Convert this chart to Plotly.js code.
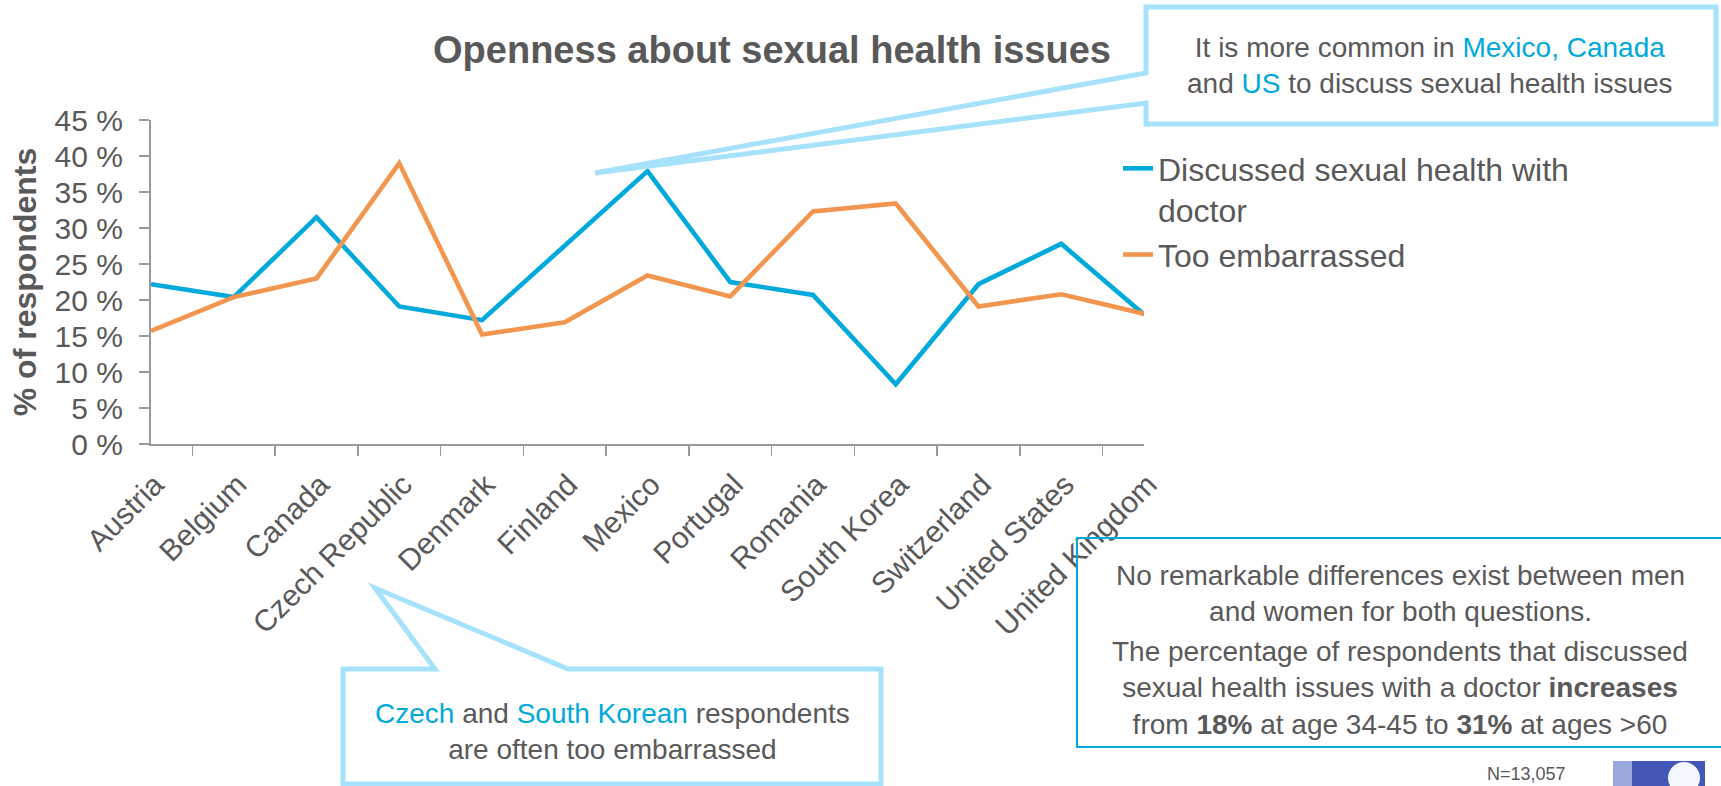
<!DOCTYPE html>
<html>
<head>
<meta charset="utf-8">
<script src="https://cdn.plot.ly/plotly-3.0.1.min.js"></script>
<style>
  html, body { margin: 0; padding: 0; background: #ffffff; }
  #chart { width: 1721px; height: 786px; }
</style>
</head>
<body>
<div id="chart"></div>
<script>
// ---- data ----
const categories = ['Austria', 'Belgium', 'Canada', 'Czech Republic', 'Denmark', 'Finland', 'Mexico',
  'Portugal', 'Romania', 'South Korea', 'Switzerland', 'United States', 'United Kingdom'];
const discussedWithDoctor = [22.2, 20.4, 31.5, 19.1, 17.2, 27.5, 37.9, 22.5, 20.7, 8.3, 22.2, 27.8, 18.0];
const tooEmbarrassed = [15.7, 20.4, 23.0, 39.0, 15.2, 16.9, 23.4, 20.5, 32.3, 33.4, 19.1, 20.8, 18.1];
const seriesNames = ['Discussed sexual health with<br>doctor', 'Too embarrassed'];
const yTicks = [0, 5, 10, 15, 20, 25, 30, 35, 40, 45];

// ---- style ----
const FONT = 'Liberation Sans, Arial, Helvetica, sans-serif';
const GRAY = '#595959';
const BLUE = '#00a9dc';
const ORANGE = '#f2954e';
const CALLOUT = '#a6e2fc';

const W = 1721, H = 786;
const L = 151, R = 1144, T = 120, B = 444;
const px = x => (x - L) / (R - L);
const py = y => (B - y) / (B - T);
function path(pts) {
  return 'M' + pts.map(p => px(p[0]).toFixed(5) + ',' + py(p[1]).toFixed(5)).join('L') + 'Z';
}

const traces = [
  { x: categories, y: discussedWithDoctor, name: seriesNames[0], type: 'scatter', mode: 'lines',
    line: { color: BLUE, width: 4.6 } },
  { x: categories, y: tooEmbarrassed, name: seriesNames[1], type: 'scatter', mode: 'lines',
    line: { color: ORANGE, width: 4.6 } }
];

const hl = t => '<span style="color:' + BLUE + '">' + t + '</span>';

const layout = {
  width: W, height: H,
  margin: { l: L, r: W - R, t: T, b: H - B, pad: 0 },
  paper_bgcolor: '#ffffff', plot_bgcolor: '#ffffff',
  font: { family: FONT, color: GRAY, size: 28 },
  title: { text: 'Openness about sexual health issues', x: 772 / W, xanchor: 'center',
    xref: 'container', yref: 'container', y: 1 - 50 / H, yanchor: 'middle',
    font: { family: FONT, size: 38, color: GRAY, weight: 'bold' } },
  showlegend: true,
  legend: { x: px(1118), xanchor: 'left', y: py(141), yanchor: 'top', valign: 'top',
    font: { family: FONT, size: 32, color: GRAY }, bgcolor: 'rgba(0,0,0,0)', tracegroupgap: 0 },
  xaxis: {
    type: 'category', tickson: 'boundaries', ticks: 'outside', ticklen: 10, tickwidth: 1.5,
    tickcolor: '#9a9a9a', showline: true, linecolor: '#9a9a9a', linewidth: 2,
    showgrid: false, zeroline: false, tickangle: -45, ticklabelstandoff: 9, ticklabelshift: 4,
    tickfont: { family: FONT, size: 30, color: GRAY }, fixedrange: true
  },
  yaxis: {
    range: [0, 45], tickvals: yTicks, ticktext: yTicks.map(v => v + ' %'),
    ticks: 'outside', ticklen: 10, tickwidth: 1.5, tickcolor: '#9a9a9a',
    showline: true, linecolor: '#9a9a9a', linewidth: 2, showgrid: false, zeroline: false,
    tickfont: { family: FONT, size: 30, color: GRAY }, ticklabelstandoff: 10,
    title: { text: '% of respondents', standoff: 8, font: { family: FONT, size: 32, color: GRAY, weight: 'bold' } },
    fixedrange: true
  },
  shapes: [
    // top callout
    { type: 'path', xref: 'paper', yref: 'paper', layer: 'above',
      path: path([[1146, 7], [1716, 7], [1716, 124], [1146, 124], [1146, 103], [595, 173], [1146, 73]]),
      line: { color: CALLOUT, width: 5 }, fillcolor: '#ffffff' },
    // bottom-left callout
    { type: 'path', xref: 'paper', yref: 'paper', layer: 'above',
      path: path([[343, 669], [435, 669], [375, 588], [568, 669], [881, 669], [881, 784], [343, 784]]),
      line: { color: CALLOUT, width: 5 }, fillcolor: '#ffffff' },
    // bottom-right box
    { type: 'rect', xref: 'paper', yref: 'paper', layer: 'above',
      x0: px(1077), x1: px(1745), y0: py(538), y1: py(747),
      line: { color: BLUE, width: 2 }, fillcolor: 'rgba(0,0,0,0)' },
    // logo fragment
    { type: 'rect', xref: 'paper', yref: 'paper', layer: 'above',
      x0: px(1613), x1: px(1705), y0: py(761), y1: py(792),
      line: { width: 0 }, fillcolor: '#4257b8' },
    { type: 'rect', xref: 'paper', yref: 'paper', layer: 'above',
      x0: px(1613), x1: px(1632), y0: py(761), y1: py(792),
      line: { width: 0 }, fillcolor: '#9aa8dc' },
    { type: 'circle', xref: 'paper', yref: 'paper', layer: 'above',
      x0: px(1668), x1: px(1700), y0: py(762), y1: py(794),
      line: { width: 0 }, fillcolor: '#f4f7ff' }
  ],
  annotations: [
    { xref: 'paper', yref: 'paper', x: px(1430), y: py(66), xanchor: 'center', yanchor: 'middle',
      showarrow: false, align: 'center', font: { family: FONT, size: 28, color: GRAY },
      text: 'It is more common in ' + hl('Mexico, Canada') + '<br>and ' + hl('US') + ' to discuss sexual health issues' },
    { xref: 'paper', yref: 'paper', x: px(612), y: py(731), xanchor: 'center', yanchor: 'middle',
      showarrow: false, align: 'center', font: { family: FONT, size: 28, color: GRAY },
      text: hl('Czech') + ' and ' + hl('South Korean') + ' respondents<br>are often too embarrassed' },
    { xref: 'paper', yref: 'paper', x: px(1400), y: py(593), xanchor: 'center', yanchor: 'middle',
      showarrow: false, align: 'center', font: { family: FONT, size: 28, color: GRAY },
      text: 'No remarkable differences exist between men<br>and women for both questions.' },
    { xref: 'paper', yref: 'paper', x: px(1400), y: py(688), xanchor: 'center', yanchor: 'middle',
      showarrow: false, align: 'center', font: { family: FONT, size: 28, color: GRAY },
      text: 'The percentage of respondents that discussed<br>sexual health issues with a doctor <b>increases</b><br>from <b>18%</b> at age 34-45 to <b>31%</b> at ages &gt;60' },
    { xref: 'paper', yref: 'paper', x: px(1526), y: py(786), xanchor: 'center', yanchor: 'bottom',
      showarrow: false, font: { family: FONT, size: 18, color: GRAY }, text: 'N=13,057' }
  ]
};

Plotly.newPlot('chart', traces, layout, { displayModeBar: false, staticPlot: true });
</script>
</body>
</html>
